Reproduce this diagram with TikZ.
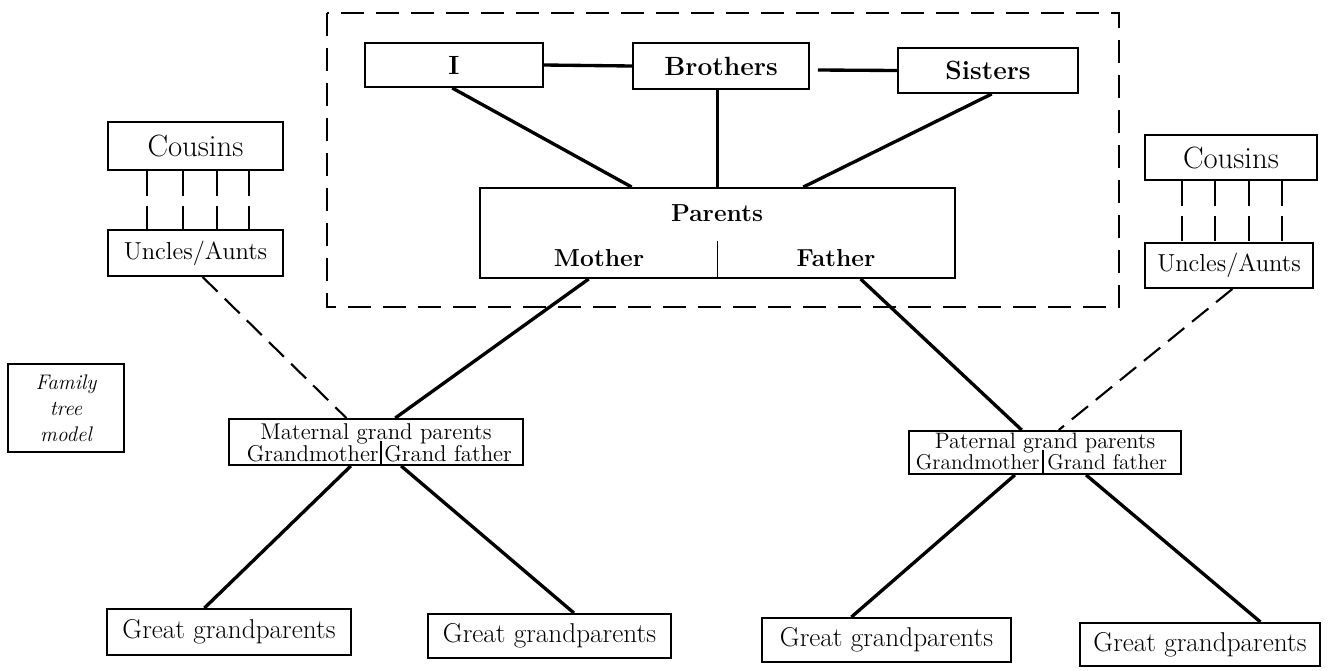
\documentclass[tikz,border=0pt]{standalone}
\usetikzlibrary{calc}
\def\famfont#1#2{\fontsize{#1}{#2}\selectfont}

\begin{document}
\begin{tikzpicture}[x=0.02cm, y=-0.02cm,
	member/.style 2 args={draw, line width=1.1pt, inner sep=0pt, minimum width=#1*0.02cm, minimum height=#2*0.02cm, font=\famfont{15}{17}\bfseries},
	lbl/.style={inner sep=0pt, font=\famfont{14}{16}\bfseries},
	link/.style={line width=1.9pt},
	kin/.style={line width=1.2pt, dash pattern=on 0.42cm off 0.2cm},
	tie/.style={line width=1.1pt, dash pattern=on 0.5cm off 0.2cm},
	frame/.style={line width=1.2pt, dash pattern=on 0.46cm off 0.24cm}]
			
			\useasboundingbox (0,0) rectangle (1332,670);
			
			%%%%% START %%%%%
			
			\draw[frame] (327,13) rectangle (1119,307);
			
			\node[member={178}{44}] (me) at (454,65) {I};
			\node[member={176}{46}] (bro) at (721,66) {Brothers};
			\node[member={180}{45}] (sis) at (988,70.5) {Sisters};
			
			\node[member={475}{90}] (par) at (717.5,233) {};
			\node[lbl] (parlbl) at (717,213) {Parents};
			\node[lbl] (mot) at (599,258) {Mother};
			\node[lbl] (fat) at (836,258) {Father};
			\draw[line width=1.1pt] (par.south) -- ++(0,-38);
			
			\draw[link] (me.east) -- (bro.west);
			\draw[link] ($(bro.east)+(8,4)$) -- (sis.west);
			\draw[link] ($(me.south west)!.49!(me.south east)$) -- ($(par.north west)!.32!(par.north east)$);
			\draw[link] (par.north |- bro.south) -- (par.north);
			\draw[link] ($(sis.south west)!.52!(sis.south east)$) -- ($(par.north west)!.68!(par.north east)$);
			
			\node[member={175}{48}, font=\famfont{17.5}{19}] (cosl) at (195.5,146) {Cousins};
			\node[member={175}{46}, font=\famfont{14}{16}] (uncl) at (195.5,253) {Uncles/Aunts};
			\node[member={172}{45}, font=\famfont{17.5}{19}] (cosr) at (1231,157.5) {Cousins};
			\node[member={168}{45}, font=\famfont{14}{16}] (uncr) at (1229,265.5) {Uncles/Aunts};
			\foreach \x in {147,183,217,249} \draw[tie] (cosl.south -| \x,0) -- (uncl.north -| \x,0);
			\foreach \x in {1182,1215,1249,1282} \draw[tie] (cosr.south -| \x,0) -- (uncr.north -| \x,0);
			
			\node[member={116}{88}, font=\famfont{12}{14.7}\itshape, align=center] (ftm) at (66,408) {Family\\tree\\model};
			
			\node[member={294}{46}] (mat) at (376,442) {};
			\node[lbl, font=\famfont{13}{13}] (matlbl) at (376,434) {Maternal grand parents};
			\node[lbl, anchor=east, font=\famfont{13}{13}] (matgm) at (379,454) {Grandmother};
			\node[lbl, anchor=west, font=\famfont{13}{13}] (matgf) at (384,454) {Grand father};
			\draw[line width=1.1pt] (mat.south -| 381,0) -- (381,441);
			
			\node[member={272}{43}] (pat) at (1045,452.5) {};
			\node[lbl, font=\famfont{12.7}{13}] (patlbl) at (1045,443) {Paternal grand parents};
			\node[lbl, anchor=east, font=\famfont{12.2}{13}] (patgm) at (1040,462) {Grandmother};
			\node[lbl, anchor=west, font=\famfont{12.2}{13}] (patgf) at (1047,462) {Grand father};
			\draw[line width=1.1pt] (pat.south -| 1043,0) -- (1043,450);
			
			\draw[link] ($(par.south west)!.23!(par.south east)$) -- ($(mat.north west)!.565!(mat.north east)$);
			\draw[link] ($(par.south west)!.80!(par.south east)$) -- ($(pat.north west)!.415!(pat.north east)$);
			\draw[kin] ($(uncl.south west)!.54!(uncl.south east)$) -- ($(mat.north west)!.40!(mat.north east)$);
			\draw[kin] ($(uncr.south west)!.52!(uncr.south east)$) -- ($(pat.north west)!.55!(pat.north east)$);
			
			\node[member={244}{46}, font=\famfont{15.5}{17}] (ggp1) at (229,632) {Great grandparents};
			\node[member={243}{44}, font=\famfont{15.5}{17}] (ggp2) at (549.5,636) {Great grandparents};
			\node[member={249}{44}, font=\famfont{15.5}{17}] (ggp3) at (886.5,640) {Great grandparents};
			\node[member={240}{43}, font=\famfont{15.5}{17}] (ggp4) at (1200,644.5) {Great grandparents};
			
			\draw[link] ($(mat.south west)!.415!(mat.south east)$) -- ($(ggp1.north west)!.40!(ggp1.north east)$);
			\draw[link] ($(mat.south west)!.585!(mat.south east)$) -- ($(ggp2.north west)!.60!(ggp2.north east)$);
			\draw[link] ($(pat.south west)!.39!(pat.south east)$) -- ($(ggp3.north west)!.36!(ggp3.north east)$);
			\draw[link] ($(pat.south west)!.65!(pat.south east)$) -- ($(ggp4.north west)!.75!(ggp4.north east)$);
			
			%%%%% END %%%%%
		\end{tikzpicture}
\end{document}
